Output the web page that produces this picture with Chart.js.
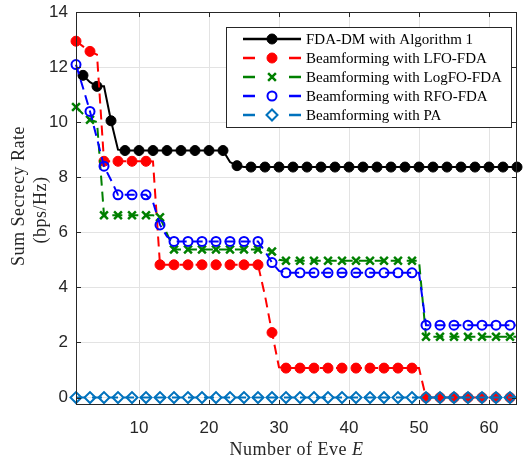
<!DOCTYPE html>
<html>
<head>
<meta charset="utf-8">
<title>Sum secrecy rate vs number of Eve</title>
<script src="https://cdn.jsdelivr.net/npm/chart.js@4.4.1/dist/chart.umd.min.js"></script>
<style>
  html, body { margin: 0; padding: 0; background: #fff; }
  #rateChart { display: block; }
</style>
</head>
<body>
<canvas id="rateChart" width="525" height="458"></canvas>
<script>
// Number of eavesdroppers E
const eveCounts = [
  1, 2, 3, 4, 5, 6, 7, 8, 9, 10, 11, 12, 13, 14, 15, 16,
  17, 18, 19, 20, 21, 22, 23, 24, 25, 26, 27, 28, 29, 30, 31, 32,
  33, 34, 35, 36, 37, 38, 39, 40, 41, 42, 43, 44, 45, 46, 47, 48,
  49, 50, 51, 52, 53, 54, 55, 56, 57, 58, 59, 60, 61, 62, 63, 64
];
const xTickValues = [10, 20, 30, 40, 50, 60];
const yTickValues = [0, 2, 4, 6, 8, 10, 12, 14];

// Sum secrecy rate (bps/Hz)
const fdaDmRate = [
  null, 11.70, 11.45, 11.30, 11.30, 10.05, 9.00, 8.97,
  8.97, 8.97, 8.97, 8.97, 8.97, 8.97, 8.97, 8.97,
  8.97, 8.97, 8.97, 8.97, 8.97, 8.97, 8.55, 8.42,
  8.37, 8.37, 8.37, 8.37, 8.37, 8.37, 8.37, 8.37,
  8.37, 8.37, 8.37, 8.37, 8.37, 8.37, 8.37, 8.37,
  8.37, 8.37, 8.37, 8.37, 8.37, 8.37, 8.37, 8.37,
  8.37, 8.37, 8.37, 8.37, 8.37, 8.37, 8.37, 8.37,
  8.37, 8.37, 8.37, 8.37, 8.37, 8.37, 8.37, 8.37
];
const lfoRate = [
  12.94, 12.75, 12.57, 12.45, 8.58, 8.58, 8.58, 8.58,
  8.58, 8.58, 8.58, 8.57, 4.82, 4.82, 4.82, 4.82,
  4.82, 4.82, 4.82, 4.82, 4.82, 4.82, 4.82, 4.82,
  4.82, 4.82, 4.82, 3.70, 2.36, 1.10, 1.07, 1.07,
  1.07, 1.07, 1.07, 1.07, 1.07, 1.07, 1.07, 1.07,
  1.07, 1.07, 1.07, 1.07, 1.07, 1.07, 1.07, 1.07,
  1.07, 1.07, 0, 0, 0, 0, 0, 0,
  0, 0, 0, 0, 0, 0, 0, 0
];
const logfoRate = [
  10.55, 10.30, 10.09, 10.00, 6.62, 6.62, 6.62, 6.62,
  6.62, 6.62, 6.62, 6.62, 6.55, 5.95, 5.38, 5.38,
  5.38, 5.38, 5.38, 5.38, 5.38, 5.38, 5.38, 5.38,
  5.38, 5.38, 5.38, 5.38, 5.30, 5.00, 4.97, 4.97,
  4.97, 4.97, 4.97, 4.97, 4.97, 4.97, 4.97, 4.97,
  4.97, 4.97, 4.97, 4.97, 4.97, 4.97, 4.97, 4.97,
  4.97, 4.97, 2.21, 2.21, 2.21, 2.21, 2.21, 2.21,
  2.21, 2.21, 2.21, 2.21, 2.21, 2.21, 2.21, 2.21
];
const rfoRate = [
  12.09, 11.25, 10.39, 9.40, 8.40, 7.90, 7.36, 7.36,
  7.36, 7.36, 7.36, 7.10, 6.27, 5.85, 5.67, 5.67,
  5.67, 5.67, 5.67, 5.67, 5.67, 5.67, 5.67, 5.67,
  5.67, 5.67, 5.67, 5.30, 4.90, 4.60, 4.53, 4.53,
  4.53, 4.53, 4.53, 4.53, 4.53, 4.53, 4.53, 4.53,
  4.53, 4.53, 4.53, 4.53, 4.53, 4.53, 4.53, 4.53,
  4.53, 4.53, 2.63, 2.63, 2.63, 2.63, 2.63, 2.63,
  2.63, 2.63, 2.63, 2.63, 2.63, 2.63, 2.63, 2.63
];
const paRate = [
  0, 0, 0, 0, 0, 0, 0, 0, 0, 0, 0, 0, 0, 0, 0, 0,
  0, 0, 0, 0, 0, 0, 0, 0, 0, 0, 0, 0, 0, 0, 0, 0,
  0, 0, 0, 0, 0, 0, 0, 0, 0, 0, 0, 0, 0, 0, 0, 0,
  0, 0, 0, 0, 0, 0, 0, 0, 0, 0, 0, 0, 0, 0, 0, 0
];

const AXIS_COLOR = '#262626';
const GRID_COLOR = '#e3e3e3';
const DASH = [10, 6];
const SERIF = '"Liberation Serif", serif';

// one line series, markers only on every other E (parity 0 = even, 1 = odd)
function makeSeries(label, values, color, opt) {
  return {
    label: label,
    data: eveCounts.map((e, i) => ({ x: e, y: values[i] })),
    borderColor: color,
    backgroundColor: opt.filled ? color : 'rgba(0,0,0,0)',
    pointBorderColor: color,
    pointBackgroundColor: opt.filled ? color : 'rgba(0,0,0,0)',
    borderWidth: 2,
    borderDash: opt.dashed ? DASH : [],
    pointStyle: opt.style,
    pointRadius: ctx => (eveCounts[ctx.dataIndex] % 2 === opt.parity ? opt.radius : 0),
    pointBorderWidth: opt.pointBorder,
    markerRadius: opt.radius,
    tension: 0,
    spanGaps: false,
    clip: false,
    order: opt.order
  };
}

const datasets = [
  makeSeries('FDA-DM with Algorithm 1', fdaDmRate, '#000000',
    { filled: true, dashed: false, style: 'circle', radius: 5, pointBorder: 1, parity: 0, order: 5 }),
  makeSeries('Beamforming with LFO-FDA', lfoRate, '#ff0000',
    { filled: true, dashed: true, style: 'circle', radius: 5, pointBorder: 1, parity: 1, order: 4 }),
  makeSeries('Beamforming with LogFO-FDA', logfoRate, '#008000',
    { filled: false, dashed: true, style: 'crossRot', radius: 5.5, pointBorder: 2.5, parity: 1, order: 3 }),
  makeSeries('Beamforming with RFO-FDA', rfoRate, '#0000ff',
    { filled: false, dashed: true, style: 'circle', radius: 4.5, pointBorder: 2, parity: 1, order: 2 }),
  makeSeries('Beamforming with PA', paRate, '#0072bd',
    { filled: false, dashed: true, style: 'rectRot', radius: 5.5, pointBorder: 2, parity: 1, order: 1 })
];

// box around the axes with inward tick marks, plus the axis titles
const framePlugin = {
  id: 'frame',
  afterDatasetsDraw(chart) {
    const { ctx, chartArea: a, scales } = chart;
    const tick = 5;
    ctx.save();
    ctx.strokeStyle = AXIS_COLOR;
    ctx.lineWidth = 1;
    ctx.setLineDash([]);
    ctx.strokeRect(a.left + 0.5, a.top + 0.5, a.right - a.left - 1, a.bottom - a.top - 1);
    ctx.beginPath();
    xTickValues.forEach(v => {
      const px = Math.round(scales.x.getPixelForValue(v)) + 0.5;
      ctx.moveTo(px, a.bottom); ctx.lineTo(px, a.bottom - tick);
      ctx.moveTo(px, a.top); ctx.lineTo(px, a.top + tick);
    });
    yTickValues.forEach(v => {
      const py = Math.round(scales.y.getPixelForValue(v)) + 0.5;
      ctx.moveTo(a.left, py); ctx.lineTo(a.left + tick, py);
      ctx.moveTo(a.right, py); ctx.lineTo(a.right - tick, py);
    });
    ctx.stroke();

    // x title: "Number of Eve E" with italic E
    ctx.fillStyle = AXIS_COLOR;
    ctx.letterSpacing = '0.5px';
    ctx.textBaseline = 'alphabetic';
    const plain = 'Number of Eve ';
    ctx.font = '18px ' + SERIF;
    const w1 = ctx.measureText(plain).width;
    ctx.font = 'italic 18px ' + SERIF;
    const w2 = ctx.measureText('E').width;
    const cx = (a.left + a.right) / 2;
    const x0 = cx - (w1 + w2) / 2;
    ctx.font = '18px ' + SERIF;
    ctx.textAlign = 'left';
    ctx.fillText(plain, x0, 455);
    ctx.font = 'italic 18px ' + SERIF;
    ctx.fillText('E', x0 + w1, 455);

    // y title on two lines
    ctx.font = '18px ' + SERIF;
    ctx.textAlign = 'center';
    ctx.textBaseline = 'middle';
    ctx.save();
    ctx.translate(19, 196);
    ctx.rotate(-Math.PI / 2);
    ctx.fillText('Sum Secrecy Rate', 0, 0);
    ctx.restore();
    ctx.save();
    ctx.translate(41, 210);
    ctx.rotate(-Math.PI / 2);
    ctx.fillText('(bps/Hz)', 0, 0);
    ctx.restore();
    ctx.restore();
  }
};

// boxed legend in the upper right, line sample with marker for each series
const legendPlugin = {
  id: 'boxLegend',
  afterDraw(chart) {
    const ctx = chart.ctx;
    const box = { left: 226, top: 27, width: 285, height: 100 };
    const rowY = [39, 58, 77, 96, 115];
    const lineL = 243, lineR = 301, markX = 272, textX = 306;
    ctx.save();
    ctx.fillStyle = '#ffffff';
    ctx.fillRect(box.left, box.top, box.width, box.height);
    ctx.strokeStyle = AXIS_COLOR;
    ctx.lineWidth = 1;
    ctx.strokeRect(box.left + 0.5, box.top + 0.5, box.width, box.height);

    chart.data.datasets.forEach((ds, i) => {
      const y = rowY[i];
      ctx.strokeStyle = ds.borderColor;
      ctx.lineWidth = 2.5;
      ctx.setLineDash([]);
      ctx.beginPath();
      if (ds.borderDash.length) {
        ctx.moveTo(lineL, y); ctx.lineTo(lineL + 12, y);
        ctx.moveTo(lineR - 12, y); ctx.lineTo(lineR, y);
      } else {
        ctx.moveTo(lineL, y); ctx.lineTo(lineR, y);
      }
      ctx.stroke();

      ctx.fillStyle = ds.pointBackgroundColor;
      ctx.strokeStyle = ds.pointBorderColor;
      ctx.lineWidth = ds.pointBorderWidth;
      Chart.helpers.drawPoint(ctx, {
        pointStyle: ds.pointStyle,
        radius: ds.markerRadius,
        rotation: 0,
        borderWidth: ds.pointBorderWidth
      }, markX, y);

      ctx.fillStyle = '#000000';
      ctx.font = '15px ' + SERIF;
      ctx.textAlign = 'left';
      ctx.textBaseline = 'middle';
      ctx.fillText(ds.label, textX, y + 1);
    });
    ctx.restore();
  }
};

// drop the label overhang padding so the plot box starts at the layout padding
function trimPadding(scale) {
  scale.paddingTop = 0;
  scale.paddingBottom = 0;
  scale.paddingLeft = 0;
  scale.paddingRight = 0;
}

const ctx = document.getElementById('rateChart').getContext('2d');
new Chart(ctx, {
  type: 'line',
  data: { datasets: datasets },
  options: {
    responsive: false,
    animation: false,
    devicePixelRatio: 1,
    events: [],
    layout: { padding: { top: 12, right: 7, left: 0, bottom: 0 } },
    plugins: {
      legend: { display: false },
      tooltip: { enabled: false }
    },
    scales: {
      x: {
        type: 'linear',
        min: 1,
        max: 64,
        afterBuildTicks: scale => { scale.ticks = xTickValues.map(v => ({ value: v })); },
        afterFit: scale => { scale.height = 53; trimPadding(scale); },
        grid: { color: GRID_COLOR, drawTicks: false },
        border: { display: false },
        ticks: {
          autoSkip: false,
          maxRotation: 0,
          padding: 13,
          color: AXIS_COLOR,
          font: { family: '"Liberation Sans", Arial, sans-serif', size: 17 }
        }
      },
      y: {
        type: 'linear',
        min: -0.27,
        max: 14,
        afterBuildTicks: scale => { scale.ticks = yTickValues.map(v => ({ value: v })); },
        afterFit: scale => { scale.width = 76; trimPadding(scale); },
        grid: { color: GRID_COLOR, drawTicks: false },
        border: { display: false },
        ticks: {
          padding: 8,
          color: AXIS_COLOR,
          font: { family: '"Liberation Sans", Arial, sans-serif', size: 17 }
        }
      }
    }
  },
  plugins: [framePlugin, legendPlugin]
});
</script>
</body>
</html>
